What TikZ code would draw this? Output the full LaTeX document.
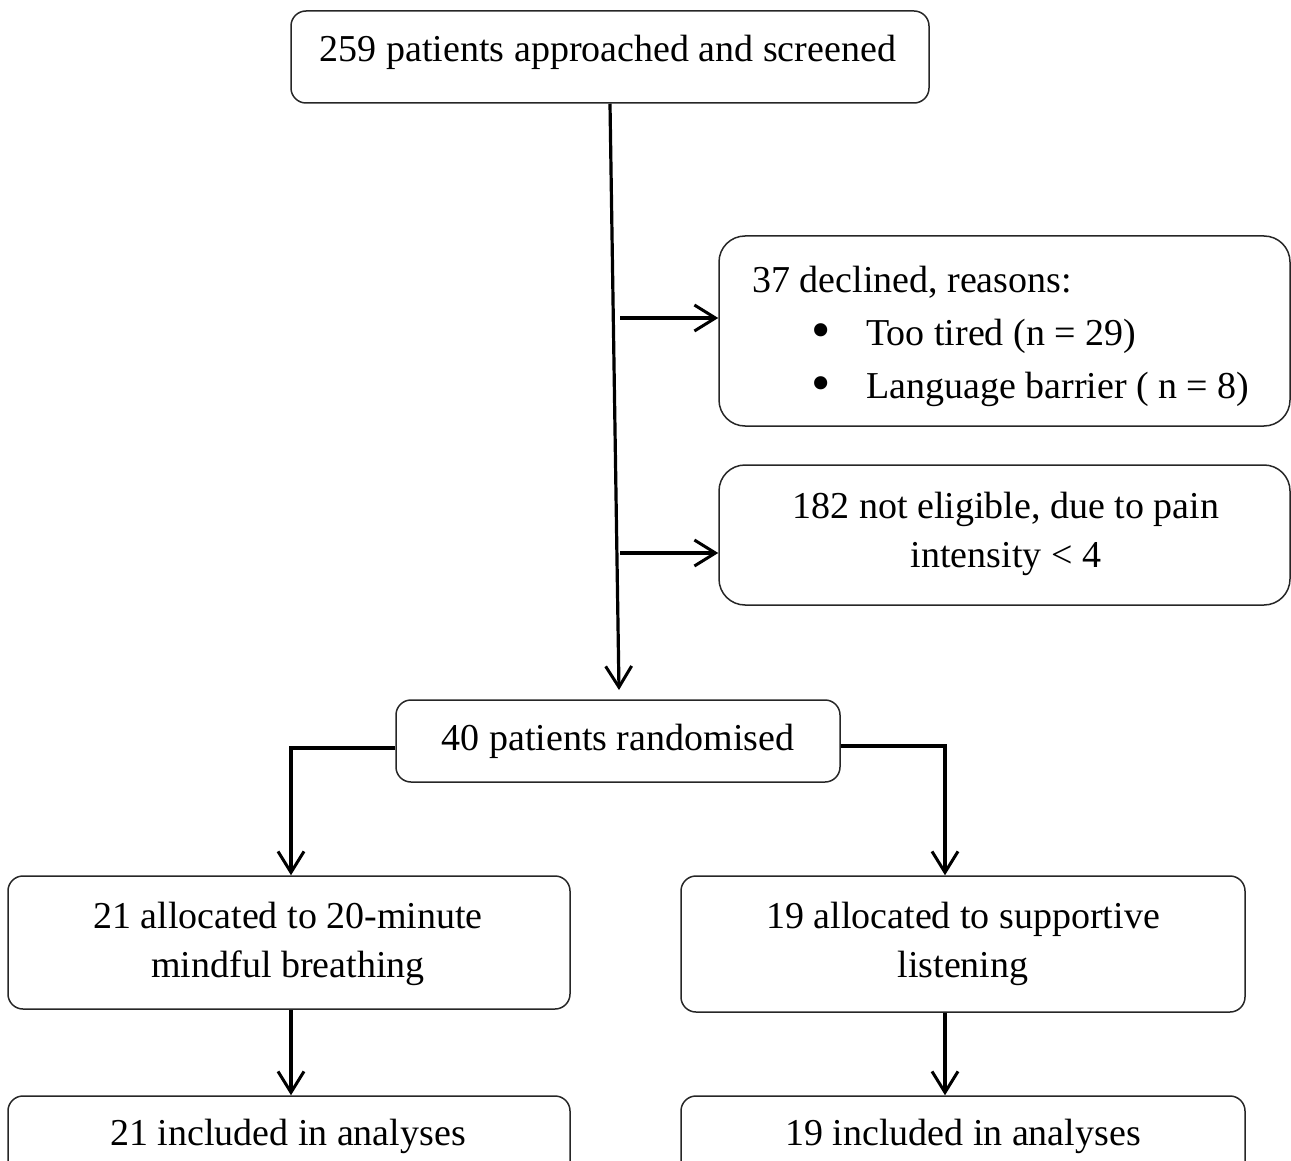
\documentclass[tikz,border=0pt]{standalone}
\usepackage{fontspec}
\setmainfont{Liberation Serif}
\usetikzlibrary{arrows.meta}
\newcommand{\bigbul}{\raisebox{-3pt}{\scalebox{1.45}{•}}}
\begin{document}
\begin{tikzpicture}[x=1pt,y=-1pt,
  box/.style={draw=black!85, line width=1.5pt, rounded corners=15pt, inner sep=0pt},
  bigbox/.style={box, rounded corners=26pt},
  txt/.style={inner sep=0pt, font=\fontsize{38}{49}\selectfont, align=center},
  arr/.style={line width=3.2pt, -{Straight Barb[length=21pt,width=26pt,line width=3pt]}}]
\useasboundingbox (0,0) rectangle (1291,1161);
\clip (0,0) rectangle (1291,1161);
% boxes
\node[box, minimum width=638pt, minimum height=92pt] (top) at (610,57) {};
\node[bigbox, minimum width=571pt, minimum height=190pt] (decl) at (1004.5,331) {};
\node[bigbox, minimum width=571pt, minimum height=140pt] (nelig) at (1004.5,535) {};
\node[box, minimum width=444pt, minimum height=82pt] (rand) at (618,741) {};
\node[box, minimum width=562pt, minimum height=133pt] (allocL) at (289,942.5) {};
\node[box, minimum width=564pt, minimum height=136pt] (allocR) at (963,944) {};
\node[box, minimum width=562pt, minimum height=120pt] (incL) at (289,1156) {};
\node[box, minimum width=564pt, minimum height=120pt] (incR) at (963,1156) {};
% texts
\node[txt, anchor=base] (topt) at (608,62) {259 patients approached and screened};
\node[txt, anchor=north west, align=left, font=\fontsize{38}{53}\selectfont] (declt) at (752,266)
  {37 declined, reasons:\\
   \hspace*{59pt}\makebox[55pt][l]{\bigbul}Too tired (n = 29)\\
   \hspace*{59pt}\makebox[55pt][l]{\bigbul}Language barrier ( n = 8)};
\node[txt, anchor=north] (neligt) at (1006,492) {182 not eligible, due to pain\\intensity < 4};
\node[txt, anchor=base] (randt) at (618,750) {40 patients randomised};
\node[txt, anchor=north] (allocLt) at (288,902) {21 allocated to 20-minute\\mindful breathing};
\node[txt, anchor=north] (allocRt) at (963,902) {19 allocated to supportive\\listening};
\node[txt, anchor=base] (incLt) at (288,1145) {21 included in analyses};
\node[txt, anchor=base] (incRt) at (963,1145) {19 included in analyses};
% connectors
\coordinate (mainend) at (619,690);
\coordinate (b1) at (620,318);
\coordinate (b2) at (620,553);
\coordinate (cL) at (291,748);
\coordinate (cR) at (945,746);
\draw[arr] (top.south) -- (mainend);
\draw[arr] (b1) -- (b1 -| decl.west);
\draw[arr] (b2) -- (b2 -| nelig.west);
\draw[arr] (cL -| rand.west) -- (cL) -- (cL |- allocL.north);
\draw[arr] (cR -| rand.east) -- (cR) -- (cR |- allocR.north);
\draw[arr] (allocL.south -| cL) -- (incL.north -| cL);
\draw[arr] (allocR.south -| cR) -- (incR.north -| cR);
\end{tikzpicture}
\end{document}
